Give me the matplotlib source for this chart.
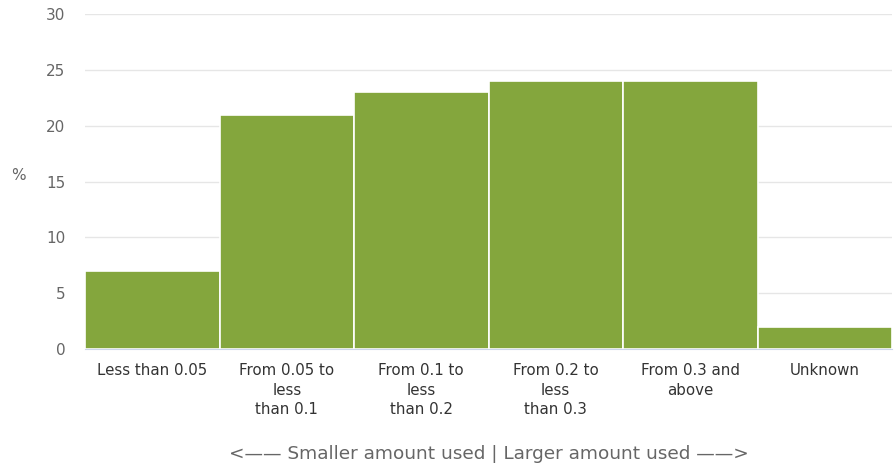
import matplotlib
matplotlib.use("Agg")
import matplotlib.pyplot as plt

categories = ["Less than 0.05", "From 0.05 to\nless\nthan 0.1", "From 0.1 to\nless\nthan 0.2",
              "From 0.2 to\nless\nthan 0.3", "From 0.3 and\nabove", "Unknown"]
values = [7, 21, 23, 24, 24, 2]
yticks = [0, 5, 10, 15, 20, 25, 30]

fig = plt.figure(figsize=(8.94, 4.68), dpi=100)
ax = fig.add_axes([85/894, (468-349)/468, (892-85)/894, (349-14)/468])
x = list(range(len(categories)))
ax.bar(x, values, width=1.0, color="#84a63d", edgecolor="white", linewidth=1.2, zorder=3)
ax.set_xlim(-0.5, len(categories) - 0.5)
ax.set_ylim(0, 30)
ax.set_yticks(yticks)
ax.set_yticklabels([str(t) for t in yticks], fontsize=11, color="#666666")
ax.set_xticks(x)
ax.set_xticklabels(categories, fontsize=10.8, color="#333333", linespacing=1.4, va="top")
ax.tick_params(axis="both", length=0)
ax.tick_params(axis="y", pad=14)
ax.tick_params(axis="x", pad=10)
ax.grid(axis="y", color="#e6e6e6", linewidth=1, zorder=0)
for s in ["top", "right", "left"]:
    ax.spines[s].set_visible(False)
ax.spines["bottom"].set_color("#ccd6eb")
ax.spines["bottom"].set_zorder(4)
fig.text(18/894, 1 - 175/468, "%", fontsize=11, color="#666666", ha="center", va="center")
fig.text(489/894, 1 - 454/468, "<—— Smaller amount used | Larger amount used ——>",
         fontsize=13.3, color="#666666", ha="center", va="center")
fig.savefig("out.png", dpi=100)
